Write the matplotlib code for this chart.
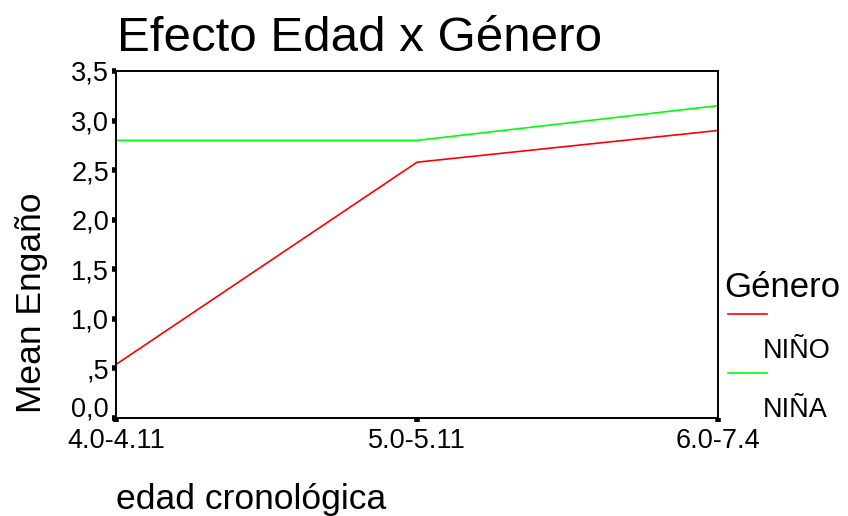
import matplotlib.pyplot as plt
import matplotlib.transforms as mtransforms
from matplotlib.lines import Line2D

plt.rcParams['font.family'] = ['Liberation Sans', 'DejaVu Sans']

edades = ["4.0-4.11", "5.0-5.11", "6.0-7.4"]
nino = [0.54, 2.58, 2.90]
nina = [2.80, 2.80, 3.15]
series = ["NIÑO", "NIÑA"]
colores = ["#ff0000", "#00ff00"]
yticks = [0.0, 0.5, 1.0, 1.5, 2.0, 2.5, 3.0, 3.5]
ylabels = ["0,0", ",5", "1,0", "1,5", "2,0", "2,5", "3,0", "3,5"]

W, H = 848, 516
fig = plt.figure(figsize=(W / 100, H / 100), dpi=100)
ax = fig.add_axes([116 / W, 1 - 418 / H, (718 - 116) / W, (418 - 71) / H])

x = range(len(edades))
ax.plot(x, nino, color=colores[0], lw=1.2)
ax.plot(x, nina, color=colores[1], lw=1.2)

ax.set_xlim(0, 2)
ax.set_ylim(0, 3.5)
ax.set_xticks(list(x))
ax.set_xticklabels(edades, fontsize=19.5)
ax.set_yticks(yticks)
ax.set_yticklabels(ylabels, fontsize=19.5)
ax.tick_params(length=3, width=4, direction='out')
ax.tick_params(axis='x', pad=4)
ax.tick_params(axis='y', pad=2)
for s in ax.spines.values():
    s.set_linewidth(1.4)

# "0,0" sits a little higher so it clears the first x label
lbl0 = ax.get_yticklabels()[0]
lbl0.set_transform(lbl0.get_transform() + mtransforms.ScaledTranslation(0, 8 / 72, fig.dpi_scale_trans))

fig.text(117 / W, 1 - 51 / H, "Efecto Edad x Género", fontsize=35.5, va='baseline')
fig.text(116 / W, 1 - 509 / H, "edad cronológica", fontsize=25.5, va='baseline')
fig.text(32 / W, 1 - 303 / H, "Mean Engaño", fontsize=25.5, rotation=90,
         ha='center', va='center')

# legend drawn by hand: line on one row, label on the next
fig.text(724 / W, 1 - 297 / H, "Género", fontsize=25, va='baseline')
for i, (nombre, c) in enumerate(zip(series, colores)):
    ly = 314 + i * 59
    fig.add_artist(Line2D([728 / W, 767 / W], [1 - ly / H, 1 - ly / H], color=c, lw=1.2))
    fig.text(763 / W, 1 - (ly + 44) / H, nombre, fontsize=19.5, va='baseline')

fig.savefig("out.png", dpi=100)
